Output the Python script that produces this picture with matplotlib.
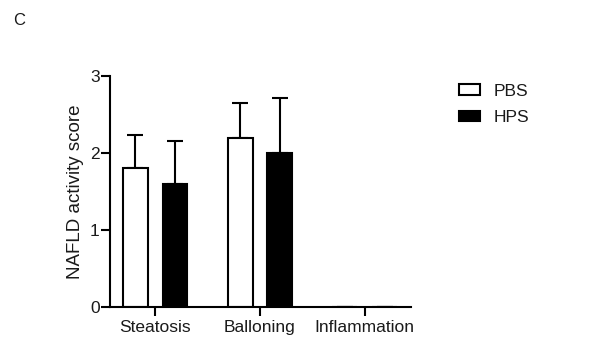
import matplotlib
matplotlib.use("Agg")
import matplotlib.pyplot as plt
import numpy as np
from matplotlib.patches import Patch

plt.rcParams['font.family'] = ['Liberation Sans', 'DejaVu Sans']

categories = ["Steatosis", "Balloning", "Inflammation"]
pbs_mean = [1.8, 2.2, 0.0]
pbs_sd = [0.44, 0.45, 0.0]
hps_mean = [1.6, 2.0, 0.0]
hps_sd = [0.55, 0.71, 0.0]
yticks = [0, 1, 2, 3]

fig = plt.figure(figsize=(6.03, 3.40), dpi=100)
ax = fig.add_axes([0.1824, 0.0971, 0.4992, 0.6794])

x = np.arange(len(categories))
w = 0.238
off = 0.19
lw = 1.5
txt = '#1a1a1a'

ax.bar(x - off, pbs_mean, w, color='white', edgecolor='black', linewidth=lw, zorder=2)
ax.bar(x + off, hps_mean, w, color='black', edgecolor='black', linewidth=lw, zorder=2)
ax.errorbar(x - off, pbs_mean, yerr=[np.zeros(3), pbs_sd], fmt='none', ecolor='black',
            elinewidth=lw, capsize=6, capthick=lw, zorder=1)
ax.errorbar(x + off, hps_mean, yerr=[np.zeros(3), hps_sd], fmt='none', ecolor='black',
            elinewidth=lw, capsize=6, capthick=lw, zorder=1)

ax.set_xlim(-0.43, 2.44)
ax.set_ylim(0, 3)
ax.set_yticks(yticks)
ax.set_xticks(x)
ax.set_xticklabels(categories)
for s in ['top', 'right']:
    ax.spines[s].set_visible(False)
for s in ['left', 'bottom']:
    ax.spines[s].set_linewidth(lw)
ax.tick_params(axis='both', width=lw, length=6.5, labelsize=12.5, colors='black', labelcolor=txt)
ax.tick_params(axis='y', pad=1)
ax.tick_params(axis='x', pad=3)
ax.set_ylabel("NAFLD activity score", fontsize=13.5, color=txt, labelpad=4)

handles = [Patch(facecolor='white', edgecolor='black', linewidth=lw, label='PBS'),
           Patch(facecolor='black', edgecolor='black', linewidth=lw, label='HPS')]
fig.legend(handles=handles, loc='upper left', bbox_to_anchor=(0.735, 0.80), frameon=False,
           fontsize=12.5, handlelength=1.2, handleheight=0.55, labelspacing=0.65, handletextpad=0.8,
           labelcolor=txt)

fig.text(0.022, 0.94, "C", fontsize=12, color=txt, ha='left', va='center')

fig.savefig("out.png", dpi=100)
